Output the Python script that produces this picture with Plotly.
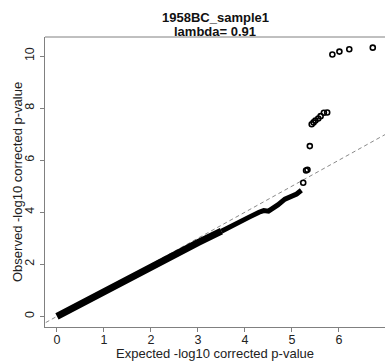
import plotly.graph_objects as go

# Dense part of the QQ curve (expected, observed)
curve_x = [0.0, 0.25, 0.5, 1.0, 1.5, 2.0, 2.5, 3.0, 3.5]
curve_y = [0.0, 0.24, 0.48, 0.96, 1.43, 1.91, 2.38, 2.83, 3.27]
curve2_x = [3.5, 3.8, 4.1, 4.3, 4.4, 4.5, 4.6, 4.7, 4.85, 5.0, 5.1, 5.2]
curve2_y = [3.27, 3.52, 3.82, 4.0, 4.06, 4.04, 4.14, 4.28, 4.5, 4.62, 4.7, 4.84]

# Tail points
tail_x = [5.24, 5.30, 5.33, 5.38, 5.42, 5.46, 5.50, 5.56, 5.61, 5.68, 5.75, 5.86, 6.01, 6.22, 6.72]
tail_y = [5.13, 5.60, 5.63, 6.54, 7.38, 7.45, 7.52, 7.60, 7.69, 7.82, 7.83, 10.06, 10.17, 10.26, 10.32]

ref_x = [-0.5, 7.2]
ref_y = [-0.5, 7.2]

x_ticks = [0, 1, 2, 3, 4, 5, 6]
y_ticks = [0, 2, 4, 6, 8, 10]

title1 = "1958BC_sample1"
title2 = "lambda= 0.91"
xlab = "Expected -log10 corrected p-value"
ylab = "Observed -log10 corrected p-value"

FONT = "Liberation Sans, Arial, Helvetica, sans-serif"

fig = go.Figure()
fig.add_trace(go.Scatter(x=ref_x, y=ref_y, mode="lines",
                         line=dict(color="#8a8a8a", width=1, dash="4px,3px"),
                         hoverinfo="skip", showlegend=False))
fig.add_trace(go.Scatter(x=curve_x, y=curve_y, mode="lines",
                         line=dict(color="black", width=7),
                         showlegend=False))
fig.add_trace(go.Scatter(x=curve2_x, y=curve2_y, mode="lines",
                         line=dict(color="black", width=5),
                         showlegend=False))
fig.add_trace(go.Scatter(x=tail_x, y=tail_y, mode="markers",
                         marker=dict(symbol="circle-open", size=5, color="black",
                                     line=dict(width=1.6, color="black")),
                         showlegend=False))

axis_common = dict(showgrid=False, zeroline=False, showline=True, linecolor="#808080",
                   linewidth=1, ticks="outside", ticklen=4, tickcolor="#808080",
                   tickwidth=1, tickfont=dict(family=FONT, size=12.5, color="#222"))

fig.update_layout(
    width=385, height=362,
    margin=dict(l=45, r=0, t=37, b=35),
    paper_bgcolor="white", plot_bgcolor="white",
    xaxis=dict(range=[-0.255, 6.98], tickvals=x_ticks, ticklabelstandoff=-3, **axis_common),
    yaxis=dict(range=[-0.41, 10.73], tickvals=y_ticks, tickangle=-90,
               ticklabelstandoff=1, **axis_common),
    font=dict(family=FONT, color="#222"),
    shapes=[dict(type="line", xref="paper", yref="paper", x0=0, x1=1.01, y0=1, y1=1,
                 line=dict(color="#808080", width=1))],
    annotations=[
        dict(text="<b>%s</b>" % title1, xref="paper", yref="paper", x=0.5, y=1,
             yshift=20, showarrow=False, font=dict(size=13, family=FONT, color="#111"),
             yanchor="middle"),
        dict(text="<b>%s</b>" % title2, xref="paper", yref="paper", x=0.5, y=1,
             yshift=6, showarrow=False, font=dict(size=13, family=FONT, color="#111"),
             yanchor="middle"),
        dict(text=xlab, xref="paper", yref="paper", x=0.5, y=0, yshift=-26,
             showarrow=False, font=dict(size=13, family=FONT, color="#222"),
             yanchor="middle"),
        dict(text=ylab, xref="paper", yref="paper", x=0, y=0.5, xshift=-28,
             textangle=-90, showarrow=False, font=dict(size=13, family=FONT, color="#222"),
             xanchor="center"),
    ],
)

fig.write_html("out.html")
